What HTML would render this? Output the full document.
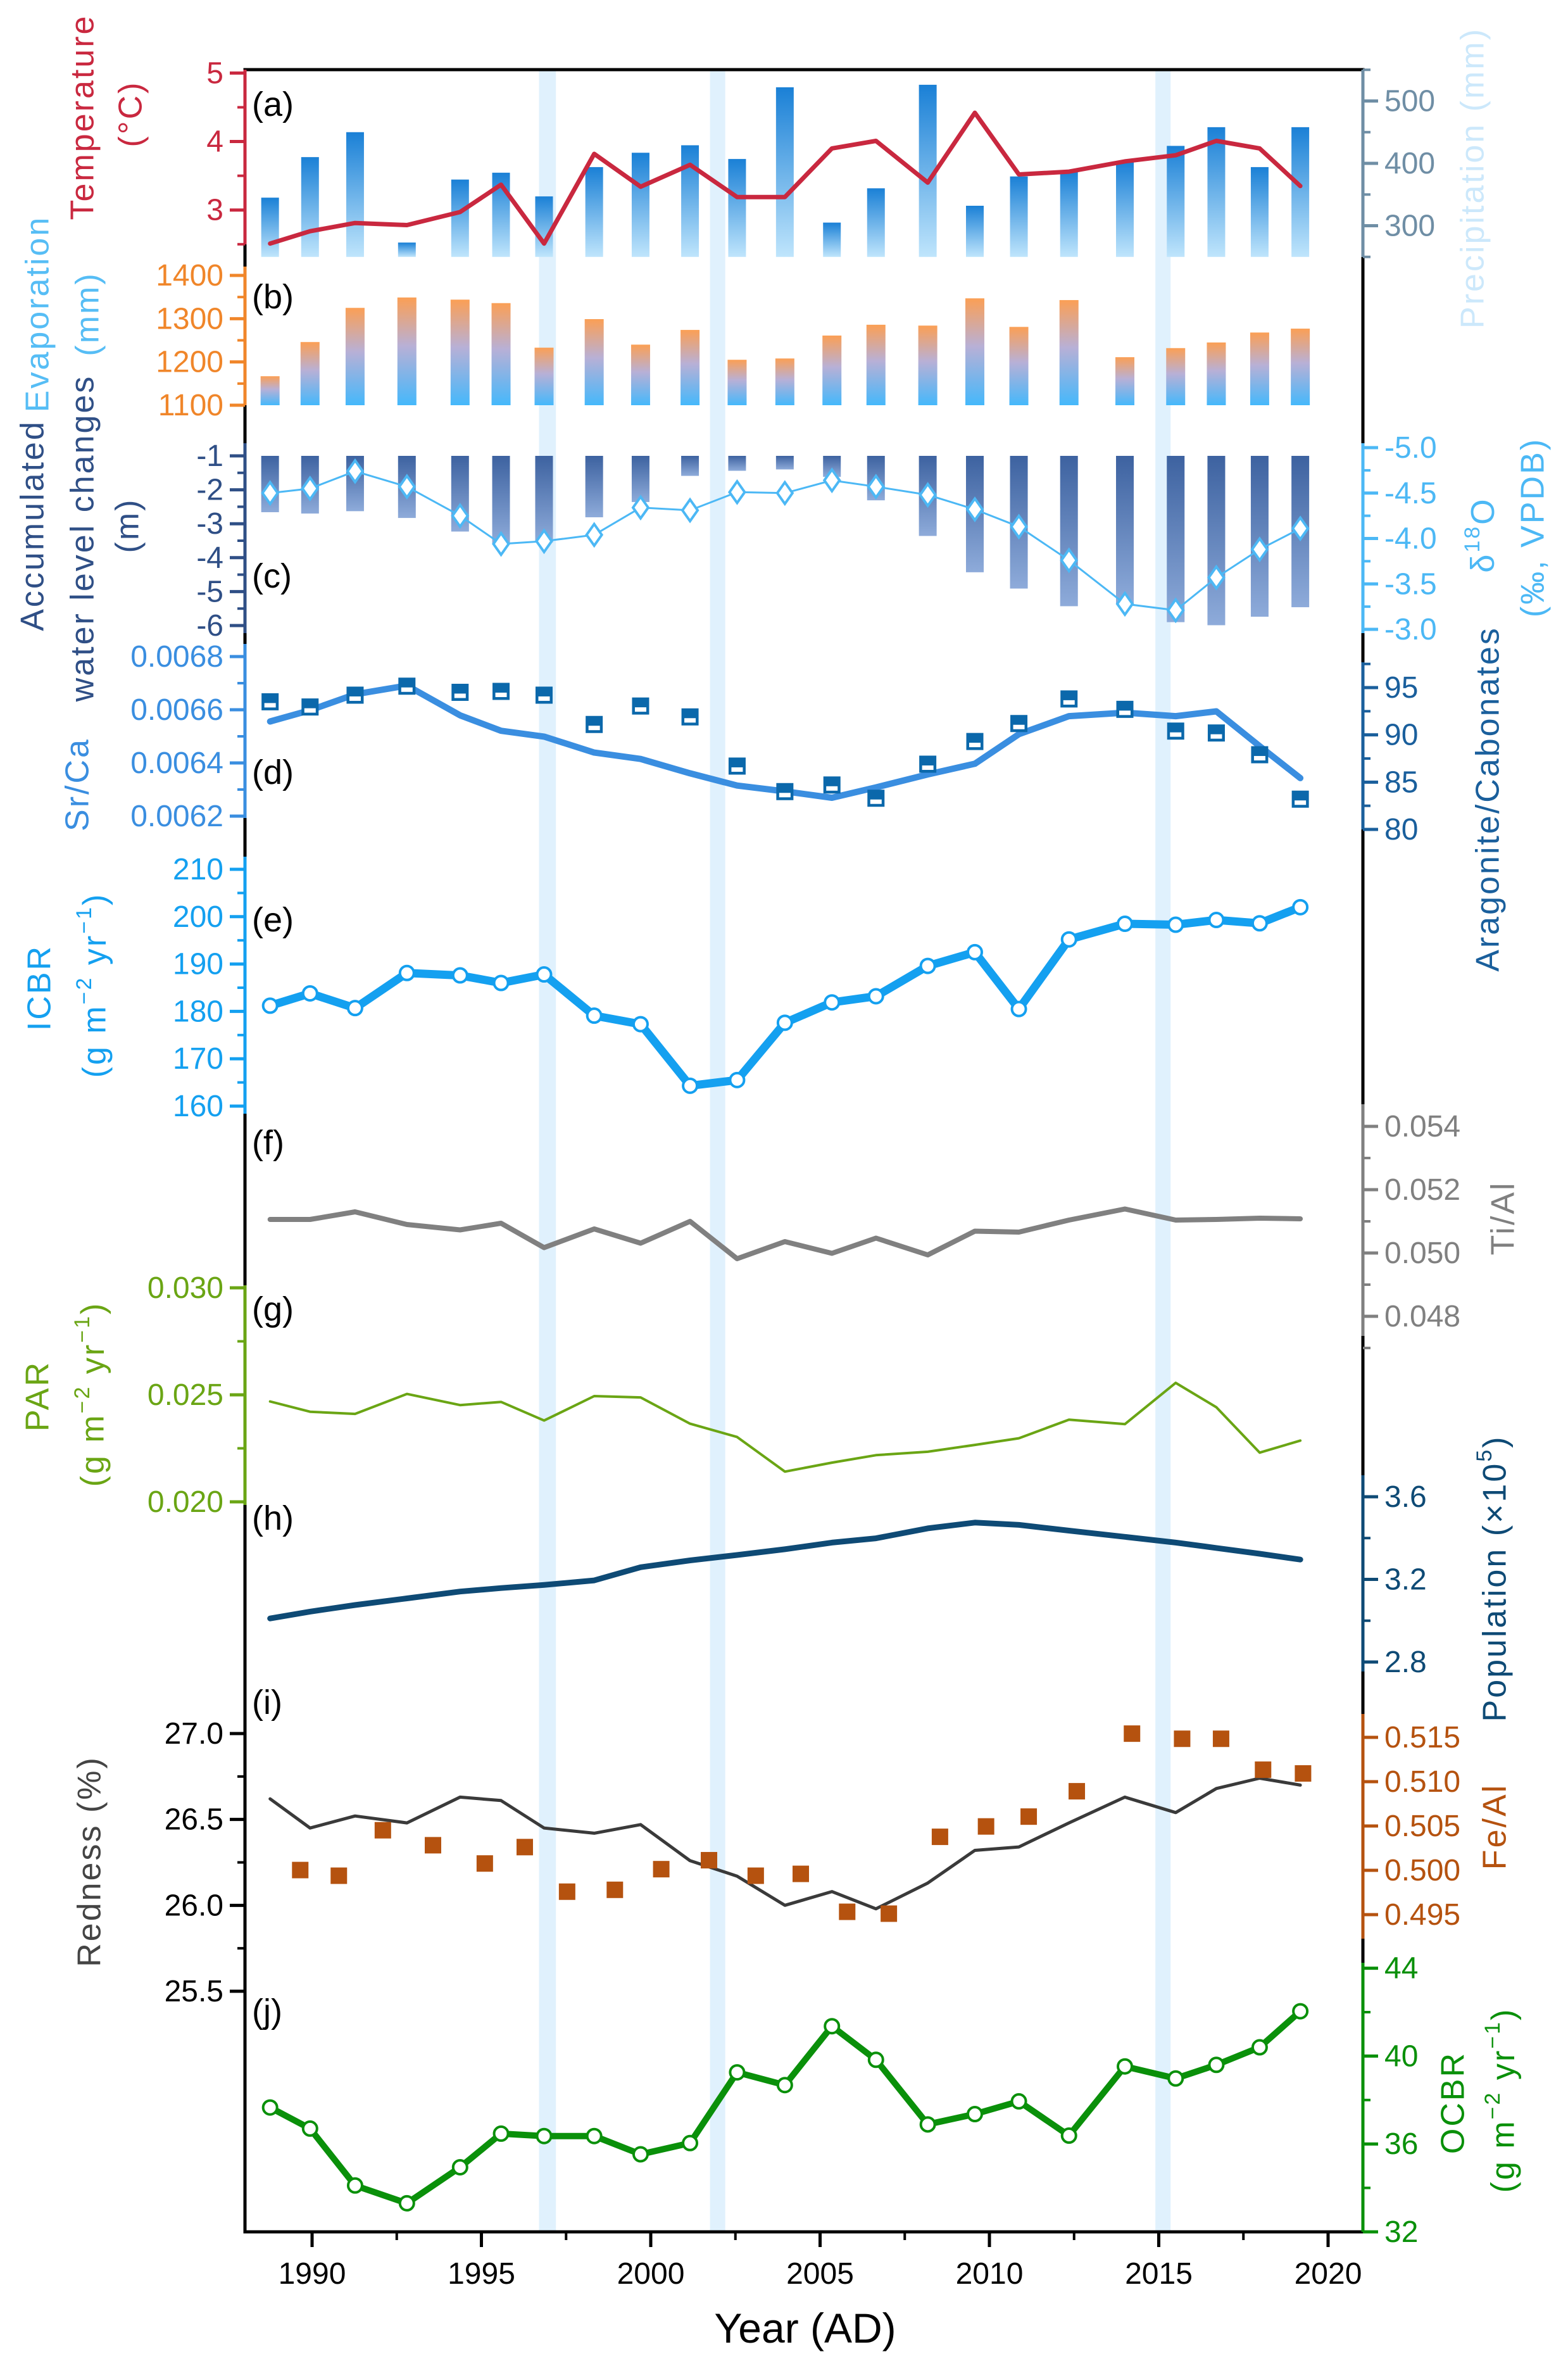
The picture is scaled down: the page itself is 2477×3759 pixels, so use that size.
<!DOCTYPE html>
<html><head><meta charset="utf-8"><style>
html,body{margin:0;padding:0;background:#fff}
svg{display:block}
text{font-family:"Liberation Sans Narrow","Liberation Sans",sans-serif}
.t{font-family:"Liberation Sans",sans-serif}
</style></head><body>
<svg id="chart" xmlns="http://www.w3.org/2000/svg" width="2477" height="3759" viewBox="0 0 2477 3759">
<defs>
<linearGradient id="gPrec" x1="0" y1="0" x2="0" y2="1"><stop offset="0" stop-color="#1a80d6"/><stop offset="1" stop-color="#bfe5fc"/></linearGradient>
<linearGradient id="gEvap" x1="0" y1="0" x2="0" y2="1"><stop offset="0" stop-color="#fb9f55"/><stop offset="0.45" stop-color="#b8b0d6"/><stop offset="1" stop-color="#45b8fb"/></linearGradient>
<linearGradient id="gWat" x1="0" y1="0" x2="0" y2="1"><stop offset="0" stop-color="#3d62a0"/><stop offset="1" stop-color="#8eabda"/></linearGradient>
</defs>
<g id="bands"></g>
<g id="marks"></g>
<g id="axes"></g>
<g id="labels"></g>
</svg>
<script>
// ---- data ----
const years = [1988.76,1989.94,1991.27,1992.8,1994.37,1995.58,1996.85,1998.33,1999.7,2001.16,2002.55,2003.96,2005.35,2006.65,2008.18,2009.57,2010.87,2012.35,2014.0,2015.5,2016.7,2017.98,2019.18];
const temperature = [2.51,2.69,2.81,2.78,2.97,3.37,2.51,3.82,3.34,3.66,3.19,3.19,3.90,4.01,3.40,4.42,3.52,3.56,3.71,3.80,4.01,3.90,3.35];
const precipitation = [345,410,450,273,374,385,347,394,417,429,407,522,305,360,526,332,379,387,403,428,458,394,458];
const evaporation = [1167,1246,1325,1349,1344,1336,1233,1299,1240,1274,1205,1208,1261,1286,1284,1347,1281,1343,1211,1232,1245,1268,1277];
const waterLevel = [-2.66,-2.70,-2.63,-2.83,-3.23,-3.60,-3.55,-2.81,-2.36,-1.59,-1.44,-1.40,-1.62,-2.31,-3.36,-4.43,-4.91,-5.43,-5.35,-5.90,-5.99,-5.74,-5.46];
const d18O = [-4.50,-4.55,-4.74,-4.57,-4.25,-3.94,-3.97,-4.04,-4.34,-4.31,-4.51,-4.50,-4.64,-4.57,-4.48,-4.32,-4.13,-3.76,-3.28,-3.21,-3.57,-3.88,-4.11];
const srCa = [0.006556,0.006598,0.006658,0.006691,0.006579,0.006521,0.006499,0.006439,0.006415,0.006361,0.006315,0.006293,0.006269,0.006308,0.006357,0.006397,0.006508,0.006576,0.006589,0.006576,0.006594,0.006463,0.006343];
const aragonite = [93.5,92.95,94.2,95.15,94.5,94.6,94.2,91.1,93.05,91.9,86.7,84.0,84.7,83.3,86.9,89.3,91.2,93.8,92.7,90.4,90.2,87.9,83.2];
const icbr = [181.2,183.8,180.7,188.1,187.6,186.0,187.8,179.1,177.3,164.3,165.5,177.6,181.9,183.2,189.6,192.5,180.5,195.2,198.5,198.3,199.3,198.6,202.0];
const tiAl = [0.05106,0.05106,0.05130,0.05090,0.05073,0.05094,0.05017,0.05076,0.05031,0.05100,0.04982,0.05036,0.04999,0.05047,0.04994,0.05069,0.05066,0.05104,0.05139,0.05104,0.05106,0.05110,0.05108];
const par = [0.02469,0.02421,0.02411,0.02504,0.02452,0.02467,0.02380,0.02494,0.02488,0.02365,0.02303,0.02141,0.02183,0.02218,0.02234,0.02266,0.02297,0.02384,0.02363,0.02556,0.02442,0.02230,0.02286];
const population = [3.011,3.044,3.076,3.108,3.141,3.158,3.173,3.195,3.259,3.292,3.318,3.346,3.378,3.399,3.447,3.475,3.464,3.436,3.406,3.378,3.352,3.324,3.296];
const redness = [26.62,26.45,26.52,26.48,26.63,26.61,26.45,26.42,26.47,26.26,26.17,26.00,26.08,25.98,26.13,26.32,26.34,26.48,26.63,26.54,26.68,26.74,26.70];
const feAlYears = [1989.65,1990.79,1992.09,1993.57,1995.1,1996.28,1997.53,1998.94,2000.31,2001.72,2003.1,2004.43,2005.8,2007.03,2008.54,2009.9,2011.16,2012.58,2014.21,2015.69,2016.84,2018.08,2019.26];
const feAl = [0.50003,0.49939,0.50452,0.50283,0.50077,0.50262,0.49759,0.4978,0.50013,0.50114,0.49939,0.4996,0.49532,0.49511,0.50378,0.50495,0.50606,0.50892,0.51542,0.51484,0.51484,0.51135,0.51093];
const ocbr = [37.66,36.70,34.11,33.30,34.94,36.47,36.36,36.36,35.53,36.04,39.26,38.68,41.36,39.83,36.89,37.36,37.94,36.38,39.53,38.98,39.60,40.40,42.04];
const bandYears = [[1996.7,1997.2],[2001.75,2002.2],[2014.9,2015.35]];
const xTicks = [1990,1995,2000,2005,2010,2015,2020];

// ---- helpers ----
const NS="http://www.w3.org/2000/svg";
const L=387,R=2153,TOP=110,BOT=3525;
function X(yr){return 493+(yr-1990)*53.5;}
function lin(v0,p0,v1,p1){return v=>p0+(v-v0)*(p1-p0)/(v1-v0);}
function el(tag,attrs,parent){const e=document.createElementNS(NS,tag);for(const k in attrs)e.setAttribute(k,attrs[k]);(parent||document.getElementById('marks')).appendChild(e);return e;}
const gB=document.getElementById('bands'),gM=document.getElementById('marks'),gA=document.getElementById('axes'),gL=document.getElementById('labels');

bandYears.forEach((b,i)=>{const r=el('rect',{x:X(b[0]),y:TOP,width:X(b[1])-X(b[0]),height:BOT-TOP,fill:'#e0f1fd'},gB);

});

function line(vals,xs,sc,color,w,name){const pts=vals.map((v,i)=>X(xs[i]).toFixed(1)+','+sc(v).toFixed(1)).join(' ');
const p=el('polyline',{points:pts,fill:'none',stroke:color,'stroke-width':w,'stroke-linejoin':'round','stroke-linecap':'round'},gM);

return p;}

function axis(side,sc,y0,y1,majors,minors,color,fmt,name){
 const g=el('g',{},gA);
 
 
 const x=side==='L'?L:R, d=side==='L'?-1:1;
 el('line',{x1:x,y1:y0,x2:x,y2:y1,stroke:color,'stroke-width':5},g);
 majors.forEach(v=>{const y=sc(v);el('line',{x1:x,y1:y,x2:x+d*24,y2:y,stroke:color,'stroke-width':5},g);
  const t=el('text',{x:x+d*34,y:y+16,'font-size':48,fill:color,'text-anchor':side==='L'?'end':'start'},g);t.textContent=fmt(v);});
 minors.forEach(v=>{const y=sc(v);el('line',{x1:x,y1:y,x2:x+d*12,y2:y,stroke:color,'stroke-width':4},g);});
}
function vtitle(lines,x,cy,color,size,name){
 lines.forEach((ln,i)=>{const t=el('text',{x:0,y:0,'font-size':size,fill:color,'text-anchor':'middle','class':'t','letter-spacing':'3',transform:`translate(${x[i]},${cy[i]}) rotate(-90)`,'dominant-baseline':'middle'},gL);
 t.innerHTML=ln;
 
 });
}
function plabel(s,y){const t=el('text',{x:398,y:y+18,'font-size':54,fill:'#000','class':'t'},gL);t.textContent=s;
 
 }

const fr=el('path',{d:`M${L},${BOT} L${L},${TOP} L${R},${TOP} L${R},${BOT} Z`,fill:'none',stroke:'#000','stroke-width':5},gA);



// (a)
const sT=lin(5,115.4,3,331.7), sP=lin(500,159.5,300,356.5);
precipitation.forEach((v,i)=>{const r=el('rect',{x:X(years[i])-14,y:sP(v),width:28,height:sP(250)-sP(v),fill:'url(#gPrec)'});
 
 });
line(temperature,years,sT,'#c9283f',7,'temperature-line');
axis('L',sT,TOP,386,[3,4,5],[2.5,3.5,4.5],'#c9283f',v=>v.toFixed(0),'temperature-axis');
axis('R',sP,TOP,406,[300,400,500],[250,350,450,550],'#6f8ea5',v=>v.toFixed(0),'precipitation-axis');
// (b)
const sE=lin(1400,435,1100,640);
evaporation.forEach((v,i)=>{const r=el('rect',{x:X(years[i])-15,y:sE(v),width:30,height:sE(1100)-sE(v),fill:'url(#gEvap)'});
 
 });
axis('L',sE,421,640,[1100,1200,1300,1400],[1150,1250,1350],'#f0862a',v=>v.toFixed(0),'evaporation-axis');
// (c)
const sW=lin(-1,720,-6,988), sO=lin(-5,707,-3,994);
waterLevel.forEach((v,i)=>{const r=el('rect',{x:X(years[i])-14,y:sW(-1),width:28,height:sW(v)-sW(-1),fill:'url(#gWat)'});
 
 });
line(d18O,years,sO,'#4cb8f5',3,'d18O-line');
d18O.forEach((v,i)=>{const x=X(years[i]),y=sO(v);const p=el('path',{d:`M${x},${y-17} L${x+12},${y} L${x},${y+17} L${x-12},${y} Z`,fill:'#fff',stroke:'#4cb8f5','stroke-width':4});
 
 });
axis('L',sW,700,1000,[-1,-2,-3,-4,-5,-6],[-1.5,-2.5,-3.5,-4.5,-5.5],'#2f4f86',v=>v.toFixed(0),'water-level-axis');
axis('R',sO,700,1000,[-5,-4.5,-4,-3.5,-3],[-4.75,-4.25,-3.75,-3.25],'#4cb8f5',v=>v.toFixed(1),'d18O-axis');
// (d)
const sS=lin(0.0068,1037,0.0062,1289), sAr=lin(95,1086,80,1310);
line(srCa,years,sS,'#3a8ee0',10,'sr-ca-line');
aragonite.forEach((v,i)=>{const x=X(years[i]),y=sAr(v);const g=el('g',{});
 
 
 el('rect',{x:x-13.5,y:y-13.5,width:27,height:27,fill:'#0b68ab'},g);
 el('rect',{x:x-9,y:y+2,width:18,height:7,fill:'#fff'},g);});
axis('L',sS,1017,1292,[0.0062,0.0064,0.0066,0.0068],[0.0063,0.0065,0.0067],'#3a8ee0',v=>v.toFixed(4),'sr-ca-axis');
axis('R',sAr,1046,1310,[80,85,90,95],[82.5,87.5,92.5,97.5],'#1a5f9c',v=>v.toFixed(0),'aragonite-axis');
// (e)
const sI=lin(210,1373,160,1747);
line(icbr,years,sI,'#14a0f0',13,'icbr-line');
icbr.forEach((v,i)=>{const c=el('circle',{cx:X(years[i]),cy:sI(v),r:11,fill:'#fff',stroke:'#14a0f0','stroke-width':4});
 
 });
axis('L',sI,1353,1759,[160,170,180,190,200,210],[165,175,185,195,205],'#14a0f0',v=>v.toFixed(0),'icbr-axis');
// (f)
const sTi=lin(0.054,1779,0.048,2079);
line(tiAl,years,sTi,'#808080',8,'ti-al-line');
axis('R',sTi,1744,2110,[0.048,0.050,0.052,0.054],[0.047,0.049,0.051,0.053],'#808080',v=>v.toFixed(3),'ti-al-axis');
// (g)
const sPa=lin(0.030,2034,0.020,2372);
line(par,years,sPa,'#6aa514',4,'par-line');
axis('L',sPa,2030,2377,[0.020,0.025,0.030],[0.0225,0.0275],'#6aa514',v=>v.toFixed(3),'par-axis');
// (h)
const sPo=lin(3.6,2364,2.8,2625);
line(population,years,sPo,'#0e4a75',9,'population-line');
axis('R',sPo,2330,2640,[2.8,3.2,3.6],[3.0,3.4],'#0e4a75',v=>v.toFixed(1),'population-axis');
// (i)
const sRd=lin(27.0,2738,25.5,3145), sFe=lin(0.515,2744,0.495,3024);
line(redness,years,sRd,'#3a3a3a',5,'redness-line');
feAl.forEach((v,i)=>{const r=el('rect',{x:X(feAlYears[i])-13,y:sFe(v)-13,width:26,height:26,fill:'#b5520f'});
 
 });
axis('L',sRd,2700,3160,[25.5,26.0,26.5,27.0],[25.75,26.25,26.75],'#000',v=>v.toFixed(1),'redness-axis');
axis('R',sFe,2707,3062,[0.495,0.500,0.505,0.510,0.515],[],'#b5520f',v=>v.toFixed(3),'fe-al-axis');
// (j)
const sOc=lin(44,3108.6,32,3525);
line(ocbr,years,sOc,'#0a900a',10,'ocbr-line');
ocbr.forEach((v,i)=>{const c=el('circle',{cx:X(years[i]),cy:sOc(v),r:11,fill:'#fff',stroke:'#0a900a','stroke-width':4});
 
 });
axis('R',sOc,3100,3525,[32,36,40,44],[34,38,42],'#0a900a',v=>v.toFixed(0),'ocbr-axis');

// x axis
const gx=el('g',{},gA);


xTicks.forEach(yr=>{el('line',{x1:X(yr),y1:BOT,x2:X(yr),y2:BOT+24,stroke:'#000','stroke-width':5},gx);
 const t=el('text',{x:X(yr),y:BOT+82,'font-size':48,'text-anchor':'middle',fill:'#000'},gx);t.textContent=yr;
 if(yr<2020)el('line',{x1:X(yr+2.5),y1:BOT,x2:X(yr+2.5),y2:BOT+13,stroke:'#000','stroke-width':4},gx);});
const xt=el('text',{x:1272,y:3700,'font-size':66,'text-anchor':'middle',fill:'#000'},gL);xt.textContent='Year (AD)';



vtitle(['Temperature','(°C)'],[134,210],[185,180],'#c9283f',52,'temperature-title');
vtitle(['Precipitation (mm)'],[2330],[281],'#cce8fb',52,'precipitation-title');
vtitle(['Evaporation','(mm)'],[63,142],[496,496],'#56bdf5',52,'evaporation-title');
vtitle(['Accumulated','water level changes','(m)'],[55,134,205],[830,850,830],'#2f4f86',52,'water-level-title');
vtitle(['δ<tspan dy="-18" font-size="34">18</tspan><tspan dy="18">O</tspan>','(‰, VPDB)'],[2346,2425],[845,833],'#4cb8f5',52,'d18O-title');
vtitle(['Sr/Ca'],[126],[1239],'#3a8ee0',52,'sr-ca-title');
vtitle(['Aragonite/Cabonates'],[2354],[1262],'#1a5f9c',52,'aragonite-title');
vtitle(['ICBR','(g m<tspan dy="-18" font-size="34">−2</tspan><tspan dy="18"> yr</tspan><tspan dy="-18" font-size="34">−1</tspan><tspan dy="18">)</tspan>'],[66,153],[1560,1556],'#14a0f0',52,'icbr-title');
vtitle(['Ti/Al'],[2378],[1924],'#808080',52,'ti-al-title');
vtitle(['PAR','(g m<tspan dy="-18" font-size="34">−2</tspan><tspan dy="18"> yr</tspan><tspan dy="-18" font-size="34">−1</tspan><tspan dy="18">)</tspan>'],[63,150],[2205,2202],'#6aa514',52,'par-title');
vtitle(['Population (×10<tspan dy="-18" font-size="34">5</tspan><tspan dy="18">)</tspan>'],[2365],[2493],'#0e4a75',52,'population-title');
vtitle(['Redness (%)'],[145],[2940],'#444',52,'redness-title');
vtitle(['Fe/Al'],[2365],[2885],'#b5520f',52,'fe-al-title');
vtitle(['OCBR','(g m<tspan dy="-18" font-size="34">−2</tspan><tspan dy="18"> yr</tspan><tspan dy="-18" font-size="34">−1</tspan><tspan dy="18">)</tspan>'],[2299,2378],[3321,3317],'#0a900a',52,'ocbr-title');

[['(a)',165],['(b)',469],['(c)',910],['(d)',1220],['(e)',1453],['(f)',1805],['(g)',2068],['(h)',2398],['(i)',2689],['(j)',3177]].forEach(a=>plabel(a[0],a[1]));
</script>
</body></html>
